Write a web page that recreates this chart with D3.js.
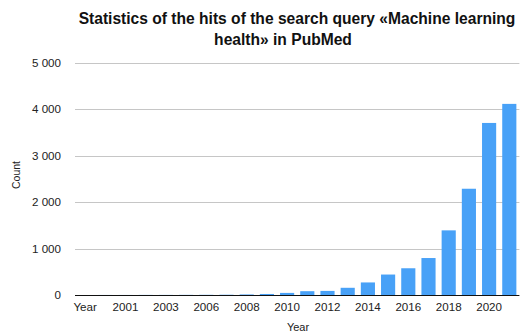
<!DOCTYPE html>
<html>
<head>
<meta charset="utf-8">
<script src="https://cdn.jsdelivr.net/npm/d3@7"></script>
<style>
  html, body { margin: 0; padding: 0; background: #fff; }
  svg { display: block; font-family: "Liberation Sans", Arial, Helvetica, sans-serif; }
</style>
</head>
<body>
<svg id="chart" width="523" height="334"></svg>
<script>
// PubMed hits per year for the query "Machine learning health"
const categories = ["Year", "2000", "2001", "2002", "2003", "2005", "2006", "2007", "2008", "2009",
  "2010", "2011", "2012", "2013", "2014", "2015", "2016", "2017", "2018", "2019", "2020", "2021"];
const counts = [0, 1, 1, 2, 2, 3, 4, 6, 12, 22,
  45, 82, 88, 155, 270, 440, 575, 795, 1390, 2285, 3700, 4110];
const yTicks = [0, 1000, 2000, 3000, 4000, 5000];
const titleLines = ["Statistics of the hits of the search query «Machine learning", "health» in PubMed"];

const svg = d3.select("#chart");
const plotLeft = 75, plotRight = 519.4, plotTop = 62.5, plotBottom = 295;
const tickFont = 11.6;

const x = d3.scaleBand().domain(categories).range([plotLeft, plotRight]).paddingInner(0.3).paddingOuter(0.15);
const y = d3.scaleLinear().domain([0, 5000]).range([plotBottom, plotTop]);

const fmt = d3.formatLocale({ decimal: ",", thousands: " ", grouping: [3], currency: ["", ""] }).format(",d");

// horizontal grid
svg.append("g")
  .selectAll("line")
  .data(yTicks.filter(d => d > 0))
  .join("line")
  .attr("x1", plotLeft).attr("x2", plotRight)
  .attr("y1", d => Math.round(y(d)) + 0.5).attr("y2", d => Math.round(y(d)) + 0.5)
  .attr("stroke", "#c6c6c6").attr("stroke-width", 1);

// y axis labels
const yAxis = d3.axisLeft(y).tickValues(yTicks).tickFormat(fmt).tickSize(0).tickPadding(14);
svg.append("g")
  .attr("transform", `translate(${plotLeft},0)`)
  .call(yAxis)
  .call(g => g.select(".domain").remove())
  .call(g => g.selectAll("text").attr("font-size", tickFont).attr("fill", "#222")
    .attr("font-family", "Liberation Sans, Arial, sans-serif"));

// bars
svg.append("g")
  .selectAll("rect")
  .data(categories.map((c, i) => ({ c, v: counts[i] })))
  .join("rect")
  .attr("x", d => x(d.c))
  .attr("width", x.bandwidth())
  .attr("y", d => y(d.v))
  .attr("height", d => plotBottom - y(d.v))
  .attr("fill", "#48a1f7");

// x axis (every other label)
const xAxis = d3.axisBottom(x)
  .tickValues(categories.filter((c, i) => i % 2 === 0))
  .tickSize(0).tickPadding(8);
svg.append("g")
  .attr("transform", `translate(0,${plotBottom})`)
  .call(xAxis)
  .call(g => g.select(".domain").attr("d", `M${plotLeft},0.5H${plotRight}`).attr("stroke", "#111").attr("stroke-width", 1.2))
  .call(g => g.selectAll("text").attr("font-size", tickFont).attr("fill", "#222")
    .attr("font-family", "Liberation Sans, Arial, sans-serif"));

// axis titles
svg.append("text")
  .attr("x", 298).attr("y", 331)
  .attr("text-anchor", "middle")
  .attr("font-size", 11).attr("fill", "#222")
  .text("Year");

svg.append("text")
  .attr("transform", "translate(20,175) rotate(-90)")
  .attr("text-anchor", "middle")
  .attr("font-size", 10.5).attr("fill", "#222")
  .text("Count");

// title
const titleX = [297, 283], titleY = [24, 45];
svg.append("g")
  .selectAll("text")
  .data(titleLines)
  .join("text")
  .attr("x", (d, i) => titleX[i]).attr("y", (d, i) => titleY[i])
  .attr("text-anchor", "middle")
  .attr("font-size", 15.6).attr("font-weight", "bold").attr("fill", "#111")
  .text(d => d);
</script>
</body>
</html>
